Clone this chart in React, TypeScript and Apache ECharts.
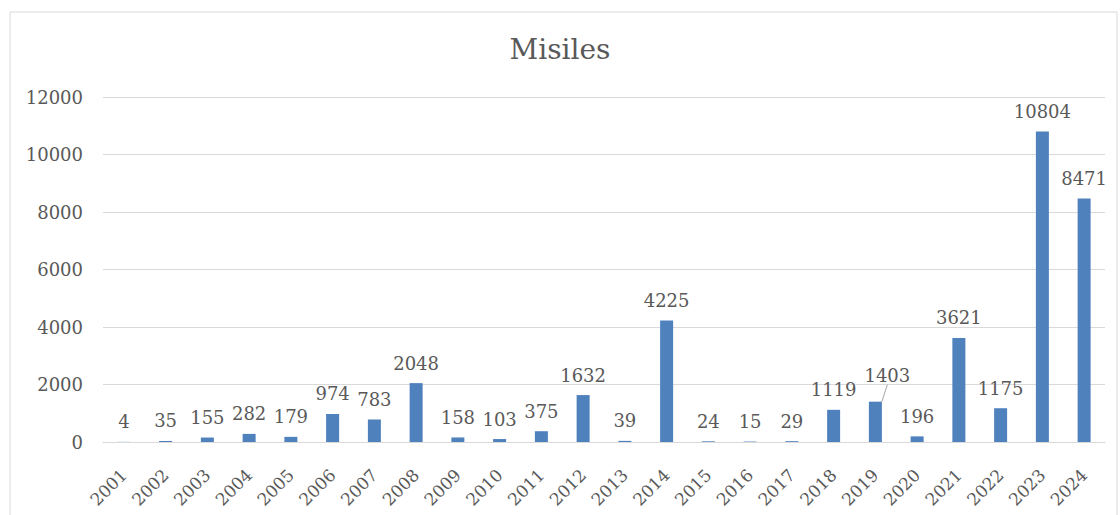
import React, { useEffect, useRef } from "react";
import * as echarts from "echarts";

const years = ["2001","2002","2003","2004","2005","2006","2007","2008","2009","2010","2011","2012","2013","2014","2015","2016","2017","2018","2019","2020","2021","2022","2023","2024"];
const missiles = [4,35,155,282,179,974,783,2048,158,103,375,1632,39,4225,24,15,29,1119,1403,196,3621,1175,10804,8471];
const yTicks = { min: 0, max: 12000, interval: 2000 };
const titleText = "Misiles";
const movedLabelYear = "2019";

const FONT = "DejaVu Serif";
const TXT = "#595959";

export default function App() {
  const ref = useRef<HTMLDivElement>(null);
  useEffect(() => {
    const chart = echarts.init(ref.current!, undefined, { renderer: "svg" });
    const movedIdx = years.indexOf(movedLabelYear);
    const barData = missiles.map((v, i) =>
      i === movedIdx
        ? { value: v, labelLine: { show: true, lineStyle: { color: "#a6a6a6", width: 1 } } }
        : v
    );
    chart.setOption({
      animation: false,
      backgroundColor: "#ffffff",
      textStyle: { fontFamily: FONT },
      title: {
        text: titleText,
        left: "center",
        top: 30,
        textStyle: { fontFamily: FONT, fontSize: 28, fontWeight: "normal", color: TXT },
      },
      graphic: [
        {
          type: "rect",
          shape: { x: 10, y: 12, width: 1107, height: 540 },
          style: { fill: "none", stroke: "#d9d9d9", lineWidth: 1 },
          silent: true,
        },
      ],
      grid: { left: 103, right: 15, top: 97, bottom: 73, containLabel: false },
      xAxis: {
        type: "category",
        data: years,
        axisLine: { show: true, lineStyle: { color: "#d9d9d9", width: 1 } },
        axisTick: { show: false },
        axisLabel: {
          rotate: 45,
          interval: 0,
          color: TXT,
          fontFamily: FONT,
          fontSize: 17,
          margin: 30,
        },
      },
      yAxis: {
        type: "value",
        min: yTicks.min,
        max: yTicks.max,
        interval: yTicks.interval,
        axisLine: { show: false },
        axisTick: { show: false },
        splitLine: { lineStyle: { color: "#d9d9d9", width: 1 } },
        axisLabel: {
          color: TXT,
          fontFamily: FONT,
          fontSize: 18,
          margin: 20,
          formatter: (v: number) => String(v),
        },
      },
      series: [
        {
          type: "bar",
          data: barData,
          barWidth: 13,
          itemStyle: { color: "#4f81bd" },
          label: {
            show: true,
            position: "top",
            distance: 11,
            color: TXT,
            fontFamily: FONT,
            fontSize: 18,
          },
          labelLine: { show: false },
          labelLayout: (params: any) =>
            params.dataIndex === movedIdx ? { dx: 12, dy: -6 } : {},
        },
      ],
    });
    return () => chart.dispose();
  }, []);
  return (
    <div
      ref={ref}
      style={{ position: "absolute", left: 0, top: 0, width: 1120, height: 515 }}
    />
  );
}
